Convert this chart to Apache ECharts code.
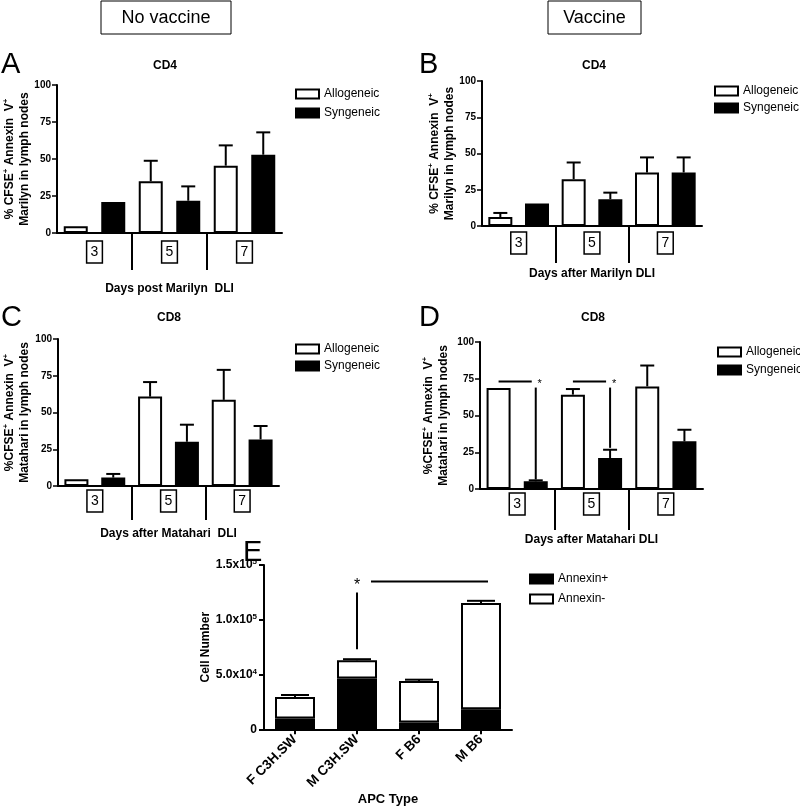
<!DOCTYPE html>
<html><head><meta charset="utf-8">
<script src="https://cdn.jsdelivr.net/npm/echarts@6/dist/echarts.min.js"></script>
<style>html,body{margin:0;padding:0;background:#fff}#c{width:800px;height:807px}</style>
</head><body><div id="c"></div>
<script>
// ---------- data ----------
const days = ['3', '5', '7'];
const groupNames = ['Allogeneic', 'Syngeneic'];
const pctTicks = [0, 25, 50, 75, 100];

// Panel A (CD4, no vaccine)
const aAllo = [4.5, 35.0, 45.5];
const aAlloErr = [0, 13.8, 13.7];
const aSyn = [21.0, 21.8, 52.9];
const aSynErr = [0, 9.7, 15.1];
// Panel B (CD4, vaccine)
const bAllo = [6.2, 32.3, 36.9];
const bAlloErr = [2.8, 11.5, 10.4];
const bSyn = [15.5, 18.5, 36.9];
const bSynErr = [0, 4.5, 10.4];
// Panel C (CD8, no vaccine)
const cAllo = [4.6, 60.8, 58.6];
const cAlloErr = [0, 9.9, 20.4];
const cSyn = [5.7, 30.1, 31.7];
const cSynErr = [2.5, 11.6, 9.1];
// Panel D (CD8, vaccine)
const dAllo = [68.7, 64.2, 69.8];
const dAlloErr = [0, 3.8, 14.2];
const dSyn = [5.2, 21.1, 32.4];
const dSynErr = [0.7, 5.6, 7.9];
// significance in D: [day index, bar level, vertical top, vertical bottom]
const dSig = [[0, 73.2, 69, 6.5], [1, 73.2, 69, 28]];

// Panel E
const apcTypes = ['F C3H.SW', 'M C3H.SW', 'F B6', 'M B6'];
const stackNames = ['Annexin+', 'Annexin-'];
const annexinPos = [9800, 46400, 6100, 18300];
const annexinNeg = [19700, 16700, 38100, 96900];
const totalErr = [1800, 900, 1100, 2100];
const cellTicks = [0, 50000, 100000, 150000];
const cellTickLabels = ['0', '5.0x10{sup|4}', '1.0x10{sup|5}', '1.5x10{sup|5}'];
// significance in E: [from index, to index, level, vertical top, vertical bottom]
const eSig = [[1, 3, 134900, 125000, 73000]];

// ---------- layout ----------
const FF = '"Liberation Sans", Arial, Helvetica, sans-serif';
const chart = echarts.init(document.getElementById('c'), null, {renderer: 'canvas'});

const cd4Name = '{n|% CFSE}{s|+}{n| Annexin  V}{s|+}\n{n|Marilyn in lymph nodes}';
const cd8Name = '{n|%CFSE}{s|+}{n| Annexin  V}{s|+}\n{n|Matahari in lymph nodes}';
const panels = [
  {grid: {left: 57, top: 85, width: 225, height: 148}, allo: aAllo, alloErr: aAlloErr, syn: aSyn, synErr: aSynErr,
   yName: cd4Name, yNameGap: 25, xName: 'Days post Marilyn  DLI', xNameGap: 50, labelMargin: 8, sepLen: 37,
   legend: {left: 295, top: 88, itemGap: 7}},
  {grid: {left: 482, top: 81, width: 220, height: 145}, allo: bAllo, alloErr: bAlloErr, syn: bSyn, synErr: bSynErr,
   yName: cd4Name, yNameGap: 22, xName: 'Days after Marilyn DLI', xNameGap: 42, labelMargin: 6, sepLen: 37,
   legend: {left: 714, top: 85, itemGap: 5}},
  {grid: {left: 58, top: 339, width: 221, height: 147}, allo: cAllo, alloErr: cAlloErr, syn: cSyn, synErr: cSynErr,
   yName: cd8Name, yNameGap: 26, xName: 'Days after Matahari  DLI', xNameGap: 42, labelMargin: 4, sepLen: 34,
   legend: {left: 295, top: 343, itemGap: 5}},
  {grid: {left: 480, top: 342, width: 223, height: 147}, allo: dAllo, alloErr: dAlloErr, syn: dSyn, synErr: dSynErr,
   yName: cd8Name, yNameGap: 29, xName: 'Days after Matahari DLI', xNameGap: 45, labelMargin: 4, sepLen: 41,
   legend: {left: 717, top: 346, itemGap: 6}}
];
const gridE = {left: 264, top: 565, width: 248, height: 165};

const black = '#000';
const lineSt = {color: black, width: 2};
const nameRich = {
  n: {fontSize: 12, fontWeight: 'bold', fontFamily: FF, color: black, lineHeight: 15},
  s: {fontSize: 8, fontWeight: 'bold', fontFamily: FF, color: black, lineHeight: 8, verticalAlign: 'top'}
};

function errRender(offsetFrac, capW) {
  return function (params, api) {
    const e = api.value(2);
    if (!e) return null;
    const c = api.value(0);
    const v = api.value(1);
    const base = api.coord([c, v]);
    const top = api.coord([c, v + e]);
    const band = api.size([1, 0])[0];
    const x = base[0] + offsetFrac * band;
    const st = {stroke: black, lineWidth: 2};
    return {type: 'group', children: [
      {type: 'line', shape: {x1: x, y1: base[1], x2: x, y2: top[1]}, style: st},
      {type: 'line', shape: {x1: x - capW / 2, y1: top[1], x2: x + capW / 2, y2: top[1]}, style: st}
    ]};
  };
}

const grids = [], xAxes = [], yAxes = [], series = [], legends = [];
panels.forEach((p, i) => {
  grids.push(p.grid);
  const slot = p.grid.width / 6;
  const bw = 24;
  const gap = ((slot - bw) / bw * 100).toFixed(1) + '%';
  // category axis (with boxed day labels)
  xAxes.push({
    gridIndex: i, type: 'category', data: days, boundaryGap: true,
    axisLine: {show: true, onZero: false, lineStyle: lineSt},
    axisTick: {show: false},
    axisLabel: {fontSize: 14, fontFamily: FF, color: black, margin: p.labelMargin,
      borderColor: black, borderWidth: 1.5, padding: [4, 4, 3, 4], lineHeight: 15},
    name: p.xName, nameLocation: 'middle', nameGap: p.xNameGap,
    nameTextStyle: {fontSize: 12, fontWeight: 'bold', fontFamily: FF, color: black}
  });
  // helper axis carrying the separators between day groups
  xAxes.push({
    gridIndex: i, type: 'value', position: 'bottom', min: 0, max: days.length,
    axisLine: {show: false}, axisLabel: {show: false}, splitLine: {show: false},
    axisTick: {show: true, customValues: days.slice(1).map((d, k) => k + 1), length: p.sepLen,
      lineStyle: {color: black, width: 2}}
  });
  yAxes.push({
    gridIndex: i, type: 'value', min: pctTicks[0], max: pctTicks[pctTicks.length - 1],
    interval: pctTicks[1] - pctTicks[0],
    axisLine: {show: true, lineStyle: lineSt},
    axisTick: {show: true, length: 5, lineStyle: {color: black, width: 1.5}},
    splitLine: {show: false},
    axisLabel: {fontSize: 10, fontWeight: 'bold', fontFamily: FF, color: black, margin: 6},
    name: p.yName, nameLocation: 'middle', nameGap: p.yNameGap,
    nameTextStyle: {rich: nameRich, align: 'center'}
  });
  const xi = i * 2;
  series.push({
    name: groupNames[0], type: 'bar', xAxisIndex: xi, yAxisIndex: i, data: p.allo,
    barWidth: bw, barGap: gap,
    itemStyle: {color: '#fff', borderColor: black, borderWidth: 2}, emphasis: {disabled: true}
  });
  series.push({
    name: groupNames[1], type: 'bar', xAxisIndex: xi, yAxisIndex: i, data: p.syn,
    barWidth: bw, barGap: gap,
    itemStyle: {color: black, borderColor: black, borderWidth: 2}, emphasis: {disabled: true}
  });
  series.push({
    name: 'errAllo' + i, type: 'custom', xAxisIndex: xi, yAxisIndex: i, z: 5,
    data: p.allo.map((v, k) => [k, v, p.alloErr[k]]), encode: {x: 0, y: 1},
    renderItem: errRender(-0.25, 14)
  });
  series.push({
    name: 'errSyn' + i, type: 'custom', xAxisIndex: xi, yAxisIndex: i, z: 5,
    data: p.syn.map((v, k) => [k, v, p.synErr[k]]), encode: {x: 0, y: 1},
    renderItem: errRender(0.25, 14)
  });
  legends.push({
    data: groupNames, orient: 'vertical', left: p.legend.left, top: p.legend.top,
    itemGap: p.legend.itemGap, itemWidth: 23, itemHeight: 9, icon: 'rect', padding: 0,
    selectedMode: false, textStyle: {fontSize: 12, fontFamily: FF, color: black}
  });
});

// significance marks in D
series.push({
  name: 'sigD', type: 'custom', xAxisIndex: 6, yAxisIndex: 3, z: 6,
  data: dSig, encode: {x: 0, y: 1},
  renderItem: function (params, api) {
    const c = api.value(0);
    const band = api.size([1, 0])[0];
    const ctr = api.coord([c, api.value(1)]);
    const xA = ctr[0] - band / 4, xS = ctr[0] + band / 4;
    const yT = api.coord([c, api.value(2)])[1];
    const yB = api.coord([c, api.value(3)])[1];
    const st = {stroke: black, lineWidth: 2};
    return {type: 'group', children: [
      {type: 'line', shape: {x1: xA, y1: ctr[1], x2: xS - 4, y2: ctr[1]}, style: st},
      {type: 'line', shape: {x1: xS, y1: yT, x2: xS, y2: yB}, style: st},
      {type: 'text', x: xS + 4, y: ctr[1] + 3, style: {text: '*', fontSize: 11, fontFamily: FF, fill: black,
        align: 'center', verticalAlign: 'middle'}}
    ]};
  }
});

// Panel E
grids.push(gridE);
const eIdx = panels.length;
xAxes.push({
  gridIndex: eIdx, type: 'category', data: apcTypes,
  axisLine: {show: true, onZero: false, lineStyle: lineSt},
  axisTick: {show: true, alignWithLabel: true, length: 5, lineStyle: lineSt},
  axisLabel: {rotate: 45, fontSize: 13.5, fontWeight: 'bold', fontFamily: FF, color: black, margin: 8, interval: 0},
  name: 'APC Type', nameLocation: 'middle', nameGap: 62,
  nameTextStyle: {fontSize: 13, fontWeight: 'bold', fontFamily: FF, color: black}
});
yAxes.push({
  gridIndex: eIdx, type: 'value', min: cellTicks[0], max: cellTicks[cellTicks.length - 1],
  interval: cellTicks[1] - cellTicks[0],
  axisLine: {show: true, lineStyle: lineSt},
  axisTick: {show: true, length: 5, lineStyle: {color: black, width: 2}},
  splitLine: {show: false},
  axisLabel: {fontSize: 12, fontWeight: 'bold', fontFamily: FF, color: black, margin: 7, lineHeight: 14,
    formatter: v => cellTickLabels[cellTicks.indexOf(v)],
    rich: {sup: {fontSize: 8, fontWeight: 'bold', fontFamily: FF, color: black, lineHeight: 8, verticalAlign: 'top'}}},
  name: 'Cell Number', nameLocation: 'middle', nameGap: 51,
  nameTextStyle: {fontSize: 12, fontWeight: 'bold', fontFamily: FF, color: black}
});
const exi = xAxes.length - 1;
series.push({
  name: stackNames[0], type: 'bar', stack: 'cells', xAxisIndex: exi, yAxisIndex: eIdx, data: annexinPos,
  barWidth: 40, itemStyle: {color: black, borderColor: black, borderWidth: 2}, emphasis: {disabled: true}
});
series.push({
  name: stackNames[1], type: 'bar', stack: 'cells', xAxisIndex: exi, yAxisIndex: eIdx, data: annexinNeg,
  barWidth: 40, itemStyle: {color: '#fff', borderColor: black, borderWidth: 2}, emphasis: {disabled: true}
});
series.push({
  name: 'errE', type: 'custom', xAxisIndex: exi, yAxisIndex: eIdx, z: 5,
  data: annexinPos.map((v, k) => [k, v + annexinNeg[k], totalErr[k]]), encode: {x: 0, y: 1},
  renderItem: errRender(0, 28)
});
series.push({
  name: 'sigE', type: 'custom', xAxisIndex: exi, yAxisIndex: eIdx, z: 6,
  data: eSig, encode: {x: 0, y: 2},
  renderItem: function (params, api) {
    const from = api.coord([api.value(0), api.value(2)]);
    const to = api.coord([api.value(1), api.value(2)]);
    const yT = api.coord([api.value(0), api.value(3)])[1];
    const yB = api.coord([api.value(0), api.value(4)])[1];
    const st = {stroke: black, lineWidth: 2};
    return {type: 'group', children: [
      {type: 'line', shape: {x1: from[0] + 14, y1: from[1], x2: to[0] + 7, y2: to[1]}, style: st},
      {type: 'line', shape: {x1: from[0], y1: yT, x2: from[0], y2: yB}, style: st},
      {type: 'text', x: from[0], y: from[1] + 4, style: {text: '*', fontSize: 16, fontFamily: FF, fill: black,
        align: 'center', verticalAlign: 'middle'}}
    ]};
  }
});
legends.push({
  data: stackNames, orient: 'vertical', left: 529, top: 573, itemGap: 8, itemWidth: 23, itemHeight: 9,
  icon: 'rect', padding: 0, selectedMode: false, textStyle: {fontSize: 12, fontFamily: FF, color: black}
});

// ---------- decorations: headers, panel letters, titles ----------
const txt = (t, x, y, size, weight, align, va) => ({
  type: 'text', x: x, y: y, silent: true,
  style: {text: t, fontSize: size, fontWeight: weight || 'normal', fontFamily: FF, fill: black,
    align: align || 'left', verticalAlign: va || 'top'}
});
const graphic = [
  {type: 'rect', shape: {x: 101, y: 1, width: 130, height: 33}, style: {fill: '#fff', stroke: black, lineWidth: 1}},
  txt('No vaccine', 166, 18, 18, 'normal', 'center', 'middle'),
  {type: 'rect', shape: {x: 548, y: 1, width: 93, height: 33}, style: {fill: '#fff', stroke: black, lineWidth: 1}},
  txt('Vaccine', 594.5, 18, 18, 'normal', 'center', 'middle'),
  txt('A', 1, 50, 29), txt('B', 419, 50, 29), txt('C', 1, 303, 29), txt('D', 419, 303, 29), txt('E', 243, 538, 29),
  txt('CD4', 165, 66, 12, 'bold', 'center', 'middle'),
  txt('CD4', 594, 66, 12, 'bold', 'center', 'middle'),
  txt('CD8', 169, 318, 12, 'bold', 'center', 'middle'),
  txt('CD8', 593, 318, 12, 'bold', 'center', 'middle')
];

chart.setOption({
  animation: false,
  backgroundColor: '#fff',
  textStyle: {fontFamily: FF},
  grid: grids, xAxis: xAxes, yAxis: yAxes, series: series, legend: legends, graphic: graphic
});
</script></body></html>
